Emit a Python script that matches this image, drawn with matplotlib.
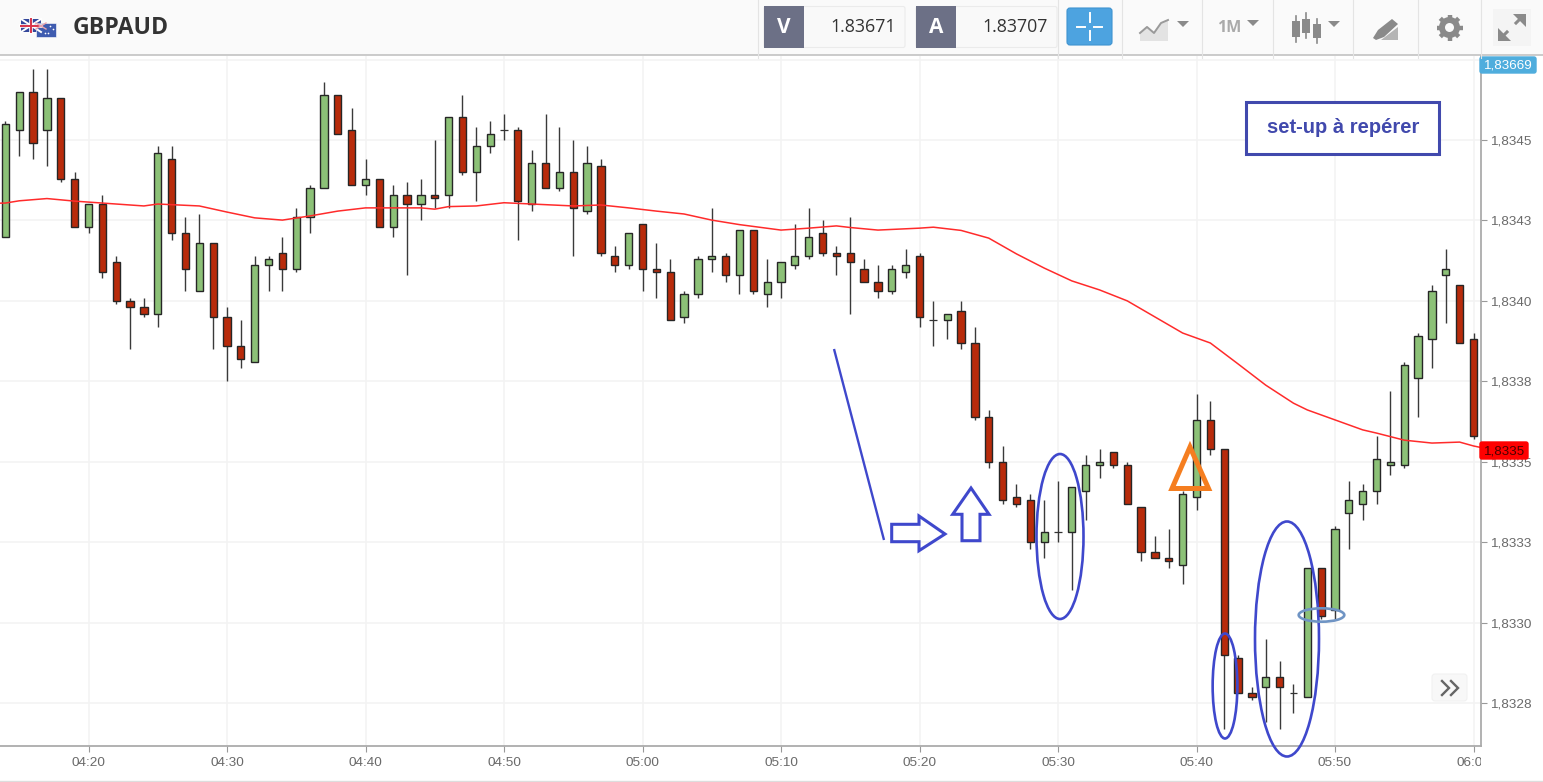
import numpy as np
import matplotlib
matplotlib.use("Agg")
import matplotlib.pyplot as plt
from matplotlib.patches import Rectangle, Ellipse, Polygon, FancyBboxPatch, Circle
from matplotlib.transforms import Bbox

W, H = 1543, 782

start_time = "04:14"
opens = [1.83420,1.83453,1.83465,1.83453,1.83463,1.83438,1.83423,1.83430,1.83412,1.83400,1.83398,1.83396,1.83444,1.83421,1.83403,1.83418,
 1.83395,1.83386,1.83381,1.83411,1.83415,1.83410,1.83426,1.83435,1.83464,1.83453,1.83436,1.83438,1.83423,1.83433,1.83430,1.83433,
 1.83433,1.83457,1.83440,1.83448,1.83453,1.83453,1.83430,1.83443,1.83435,1.83440,1.83428,1.83442,1.83414,1.83411,1.83424,1.83410,
 1.83409,1.83395,1.83402,1.83413,1.83414,1.83408,1.83422,1.83402,1.83406,1.83411,1.83414,1.83421,1.83415,1.83415,1.83410,1.83406,
 1.83403,1.83409,1.83414,1.83394,1.83394,1.83397,1.83387,1.83364,1.83350,1.83339,1.83338,1.83325,1.83328,1.83328,1.83341,1.83349,
 1.83353,1.83349,1.83336,1.83322,1.83320,1.83318,1.83339,1.83363,1.83354,1.83289,1.83278,1.83280,1.83283,1.83278,1.83277,1.83317,
 1.83304,1.83334,1.83337,1.83341,1.83349,1.83349,1.83376,1.83388,1.83408,1.83405,1.83388]
highs = [1.83456,1.83465,1.83472,1.83472,1.83463,1.83440,1.83430,1.83433,1.83414,1.83401,1.83401,1.83448,1.83448,1.83426,1.83427,1.83418,
 1.83398,1.83394,1.83414,1.83414,1.83420,1.83429,1.83436,1.83468,1.83464,1.83460,1.83444,1.83438,1.83436,1.83437,1.83438,1.83450,
 1.83457,1.83464,1.83454,1.83456,1.83458,1.83454,1.83447,1.83458,1.83454,1.83450,1.83448,1.83444,1.83417,1.83421,1.83424,1.83418,
 1.83413,1.83403,1.83414,1.83429,1.83415,1.83422,1.83422,1.83413,1.83412,1.83424,1.83429,1.83425,1.83417,1.83426,1.83413,1.83411,
 1.83411,1.83416,1.83415,1.83400,1.83396,1.83400,1.83392,1.83366,1.83355,1.83343,1.83340,1.83338,1.83344,1.83342,1.83352,1.83354,
 1.83353,1.83350,1.83336,1.83327,1.83329,1.83341,1.83371,1.83369,1.83354,1.83290,1.83280,1.83295,1.83288,1.83281,1.83317,1.83317,
 1.83330,1.83344,1.83343,1.83358,1.83372,1.83381,1.83390,1.83405,1.83416,1.83405,1.83390]
lows = [1.83420,1.83445,1.83444,1.83442,1.83437,1.83423,1.83421,1.83407,1.83399,1.83385,1.83395,1.83392,1.83419,1.83403,1.83403,1.83385,
 1.83375,1.83379,1.83381,1.83403,1.83403,1.83409,1.83421,1.83435,1.83452,1.83436,1.83433,1.83423,1.83420,1.83408,1.83425,1.83429,
 1.83429,1.83439,1.83431,1.83446,1.83450,1.83419,1.83428,1.83435,1.83434,1.83414,1.83427,1.83414,1.83409,1.83410,1.83403,1.83401,
 1.83394,1.83393,1.83401,1.83409,1.83406,1.83402,1.83402,1.83398,1.83401,1.83410,1.83413,1.83414,1.83408,1.83396,1.83406,1.83401,
 1.83402,1.83407,1.83392,1.83386,1.83388,1.83385,1.83363,1.83348,1.83337,1.83336,1.83323,1.83320,1.83325,1.83310,1.83332,1.83345,
 1.83348,1.83337,1.83319,1.83320,1.83317,1.83312,1.83335,1.83352,1.83267,1.83278,1.83276,1.83269,1.83267,1.83272,1.83277,1.83301,
 1.83301,1.83323,1.83332,1.83337,1.83346,1.83348,1.83364,1.83379,1.83393,1.83387,1.83357]
closes = [1.83455,1.83465,1.83449,1.83463,1.83438,1.83423,1.83430,1.83409,1.83400,1.83398,1.83396,1.83446,1.83421,1.83410,1.83418,1.83395,
 1.83386,1.83382,1.83411,1.83413,1.83410,1.83426,1.83435,1.83464,1.83452,1.83436,1.83438,1.83423,1.83433,1.83430,1.83433,1.83432,
 1.83457,1.83440,1.83448,1.83452,1.83453,1.83431,1.83443,1.83435,1.83440,1.83429,1.83443,1.83415,1.83411,1.83421,1.83410,1.83409,
 1.83394,1.83402,1.83413,1.83414,1.83408,1.83422,1.83403,1.83406,1.83412,1.83414,1.83420,1.83415,1.83414,1.83412,1.83406,1.83403,
 1.83410,1.83411,1.83395,1.83394,1.83396,1.83387,1.83364,1.83350,1.83338,1.83337,1.83325,1.83328,1.83328,1.83342,1.83349,1.83350,
 1.83349,1.83337,1.83322,1.83320,1.83319,1.83340,1.83363,1.83354,1.83290,1.83278,1.83277,1.83283,1.83280,1.83278,1.83317,1.83302,
 1.83329,1.83338,1.83341,1.83351,1.83350,1.83380,1.83389,1.83403,1.83410,1.83387,1.83358]

ma_times = ["04:13","04:14","04:15","04:17","04:19","04:21","04:24","04:25","04:28","04:30","04:32","04:34","04:36","04:38","04:40","04:44",
 "04:45","04:46","04:48","04:50","04:52","04:55","04:57","04:59","05:01","05:03","05:05","05:07","05:10","05:12","05:14","05:15",
 "05:17","05:20","05:21","05:23","05:25","05:27","05:29","05:31","05:33","05:35","05:37","05:39","05:41","05:43","05:45","05:47",
 "05:48","05:50","05:52","05:53","05:55","05:57","05:59","06:00","06:01"]
ma_values = [1.834303,1.834304,1.834311,1.834318,1.834310,1.834304,1.834295,1.834301,1.834295,1.834276,1.834258,1.834251,1.834264,1.834279,1.834289,1.834289,
 1.834285,1.834293,1.834295,1.834305,1.834301,1.834295,1.834298,1.834289,1.834279,1.834270,1.834251,1.834237,1.834220,1.834226,1.834233,1.834228,
 1.834220,1.834226,1.834229,1.834219,1.834195,1.834146,1.834102,1.834062,1.834034,1.834000,1.833950,1.833900,1.833869,1.833804,1.833738,1.833682,
 1.833661,1.833630,1.833599,1.833589,1.833567,1.833558,1.833561,1.833549,1.833540]

x_tick_labels = ["04:20","04:30","04:40","04:50","05:00","05:10","05:20","05:30","05:40","05:50","06:00"]
y_tick_values = [1.83475,1.83450,1.83425,1.83400,1.83375,1.83350,1.83325,1.83300,1.83275]
y_tick_labels = ["","1,8345","1,8343","1,8340","1,8338","1,8335","1,8333","1,8330","1,8328"]

BID, ASK = "1.83671", "1.83707"
LAST_PRICE, LAST_CLOSE = "1,83669", "1,8335"

def to_min(s):
    h, m = s.split(":")
    return int(h) * 60 + int(m)

SANS = "Liberation Sans"
OPEN = "Open Sans"
GREEN, RED, EDGE = "#8CC177", "#B82B0B", "#262626"

fig = plt.figure(figsize=(W / 100, H / 100), dpi=100, facecolor="white")

# ---- chart axes
ax_left, ax_right, ax_top, ax_bottom = 0, 1481, 56, 746
ax = fig.add_axes([ax_left / W, 1 - ax_bottom / H, (ax_right - ax_left) / W, (ax_bottom - ax_top) / H])
px_per_min = 13.85
x0 = to_min("04:20") - 88.5 / px_per_min
ax.set_xlim(x0, x0 + 1481 / px_per_min)
py = 0.00025 / 80.43
ax.set_ylim(1.8345 - (746 - 140) * py, 1.8345 + (140 - 56) * py)

ax.set_xticks([to_min(t) for t in x_tick_labels])
ax.set_xticklabels(x_tick_labels)
ax.set_yticks(y_tick_values)
ax.set_yticklabels(y_tick_labels)
ax.yaxis.tick_right()
ax.tick_params(axis="both", length=4.3, width=0.8, color="#999999", labelcolor="#6A6A6A", labelsize=9.7)
ax.tick_params(axis="y", pad=2.4)
ax.tick_params(axis="x", pad=3.4)
for lab in ax.get_xticklabels() + ax.get_yticklabels():
    lab.set_fontfamily(SANS)
for lab in ax.get_xticklabels():
    lab.set_clip_on(True)
    lab.set_clip_box(Bbox([[0, 0], [1481, H]]))
ax.grid(True, color="#F3F3F3", lw=1.1)
ax.set_axisbelow(True)
for side in ("top", "left"):
    ax.spines[side].set_visible(False)
for side in ("right", "bottom"):
    ax.spines[side].set_color("#ABABAB")
    ax.spines[side].set_linewidth(1.3)

minutes = to_min(start_time) + np.arange(len(opens))
o, h, l, c = map(np.array, (opens, highs, lows, closes))
ax.vlines(minutes, l, h, color="#3A3A3A", lw=1.0, zorder=2)
body = np.abs(c - o) > 1e-7
colors = [GREEN if cc > oo else RED for oo, cc in zip(o, c)]
ax.bar(minutes[body], np.abs(c - o)[body], bottom=np.minimum(o, c)[body], width=0.52,
       color=[col for col, b in zip(colors, body) if b], edgecolor=EDGE, linewidth=1.0, zorder=3)
ax.hlines(o[~body], minutes[~body] - 0.28, minutes[~body] + 0.28, color="#333333", lw=0.9, zorder=3)
ax.plot([to_min(t) for t in ma_times], ma_values, color="#FF2B2B", lw=1.1, zorder=4)

# ---- pixel overlay for the platform chrome and the hand-drawn annotations
ov = fig.add_axes([0, 0, 1, 1], facecolor="none")
ov.set_xlim(0, W)
ov.set_ylim(H, 0)
ov.axis("off")

BLUE = "#3F48CC"
ov.plot([834, 884], [349, 540], color=BLUE, lw=1.7, solid_capstyle="butt")
ov.add_patch(Polygon([(891.7, 524.3), (919, 524.3), (919, 516), (945, 534), (919, 550.7), (919, 541.7), (891.7, 541.7)],
                     closed=True, fill=False, ec=BLUE, lw=2.2))
ov.add_patch(Polygon([(971, 488), (989, 514.3), (980, 514.3), (980, 540.7), (962, 540.7), (962, 514.3), (952.7, 514.3)],
                     closed=True, fill=False, ec=BLUE, lw=2.2))
for cx, cy, w, hh, col in [(1060, 536.5, 47, 165, BLUE), (1225, 686, 24.7, 105, BLUE),
                           (1287, 639, 64, 235, BLUE), (1321.5, 615, 45.6, 13.4, "#6F94C4")]:
    ov.add_patch(Ellipse((cx, cy), w, hh, fill=False, ec=col, lw=1.9))
ov.add_patch(Polygon([(1190, 447), (1172, 488.5), (1208.5, 488.5)], closed=True, fill=False, ec="#F57E20", lw=3.6))

ov.add_patch(Rectangle((1245.5, 101.5), 193, 52, fc="white", ec="#4149AD", lw=2.2))
ov.text(1343, 127.5, "set-up à repérer", family=SANS, weight="bold", fontsize=14.5, color="#4149AD", ha="center", va="center")

# last price tags
ov.add_patch(FancyBboxPatch((1480, 57), 56, 16, boxstyle="round,pad=0,rounding_size=2", fc="#4FADDD", ec="#4FADDD", lw=1))
ov.text(1508, 65.5, LAST_PRICE, family=SANS, fontsize=9.6, color="white", ha="center", va="center")
ov.add_patch(FancyBboxPatch((1480, 442), 48, 17, boxstyle="round,pad=0,rounding_size=2", fc="#FF0000", ec="#FF0000", lw=1))
ov.text(1505, 451, LAST_CLOSE, family=SANS, fontsize=9.6, color="#4A0000", ha="center", va="center")

# scroll button
ov.add_patch(FancyBboxPatch((1432, 674), 35, 27, boxstyle="round,pad=0,rounding_size=3", fc="#F8F8F8", ec="#F1F1F1", lw=0.8))
for dx in (0, 9):
    ov.plot(np.array([1442, 1449, 1442]) + dx, [681, 688, 695], color="#666666", lw=1.7, solid_joinstyle="miter")

# page bottom rule
ov.plot([0, W], [781, 781], color="#DDDDDD", lw=1)

# toolbar
ov.add_patch(Rectangle((0, 0), W, 55, fc="#FAFAFA", ec="none"))
ov.plot([0, W], [55.3, 55.3], color="#BDBDBD", lw=1.1)
for sx in (758, 1057.5, 1121.5, 1202, 1272.5, 1353, 1417.5, 1481):
    ov.plot([sx, sx], [0, 58], color="#E4E4E4", lw=0.8)

# flags
ov.add_patch(Rectangle((21, 19), 20, 13, fc="#33479B", ec="none"))
ov.plot([21, 41], [19, 32], color="white", lw=1.4)
ov.plot([21, 41], [32, 19], color="white", lw=1.4)
ov.plot([31, 31], [19, 32], color="white", lw=2.6)
ov.plot([21, 41], [25.5, 25.5], color="white", lw=2.6)
ov.plot([31, 31], [19, 32], color="#D8344A", lw=1.4)
ov.plot([21, 41], [25.5, 25.5], color="#D8344A", lw=1.4)
ov.add_patch(Rectangle((36, 23), 20, 13.5, fc="#3F5CB0", ec="white", lw=0.4))
ov.plot([36, 46], [23, 29], color="#E9A4AE", lw=1.0)
ov.plot([36, 46], [29, 23], color="#E9A4AE", lw=1.0)
ov.scatter([50, 53, 48, 45], [26, 29, 33, 33], s=1.5, color="white", lw=0)
ov.text(73, 28, "GBPAUD", family=OPEN, weight="bold", fontsize=16.6, color="#333333", ha="left", va="center")

# bid / ask boxes
for bx, letter, val in [(764, "V", BID), (916, "A", ASK)]:
    ov.add_patch(FancyBboxPatch((bx, 6.5), 141, 41, boxstyle="round,pad=0,rounding_size=2", fc="#F9F9F9", ec="#EBEBEB", lw=0.8))
    ov.add_patch(Rectangle((bx, 6), 40, 42, fc="#6C7086", ec="none"))
    ov.text(bx + 20, 27.5, letter, family=OPEN, weight="bold", fontsize=15, color="white", ha="center", va="center")
    ov.text(bx + 132, 27.5, val, family=OPEN, fontsize=12.8, color="#333333", ha="right", va="center")

# crosshair button
ov.add_patch(FancyBboxPatch((1067, 8), 45, 37, boxstyle="round,pad=0,rounding_size=3", fc="#4DA3E0", ec="#3E93D0", lw=0.8))
ov.plot([1077, 1085], [26.5, 26.5], color="white", lw=1.4)
ov.plot([1094, 1102], [26.5, 26.5], color="white", lw=1.4)
ov.plot([1089.5, 1089.5], [13, 22], color="white", lw=1.4)
ov.plot([1089.5, 1089.5], [31, 40], color="white", lw=1.4)

ICON = "#8A8A8A"
def tri(cx, cy):
    ov.add_patch(Polygon([(cx - 6, cy - 3), (cx + 6, cy - 3), (cx, cy + 3)], closed=True, fc=ICON, ec="none"))

# chart-type icon
ov.add_patch(Polygon([(1140, 41), (1140, 32), (1147, 26), (1154, 32), (1162, 22), (1168, 20), (1168, 41)], closed=True, fc="#E3E3E3", ec="none"))
ov.plot([1140, 1147, 1154, 1161, 1168], [33, 27, 33, 23, 20], color="#9A9A9A", lw=1.4)
tri(1183, 24)
ov.text(1229, 28, "1M", family=OPEN, weight="bold", fontsize=11.5, color="#AAAAAA", ha="center", va="center")
tri(1253, 23)
# candle icon
for cx, t, b, t2, b2 in [(1296, 21, 37, 16, 42), (1306, 19, 33, 13, 38), (1317, 24, 38, 19, 43)]:
    ov.plot([cx, cx], [t2, b2], color=ICON, lw=1.2)
    ov.add_patch(Rectangle((cx - 4, t), 8, b - t, fc=ICON, ec="none"))
tri(1334, 24)
# pencil icon
ov.add_patch(Polygon([(1373, 38), (1378, 30), (1392, 19), (1398, 24), (1384, 37), (1376, 40)], closed=True, fc=ICON, ec="none"))
ov.add_patch(Polygon([(1381, 40), (1398, 27), (1398, 40)], closed=True, fc="#B5B5B5", ec="none"))
# gear icon
gx, gy = 1449.5, 27.5
for a in np.arange(8) * np.pi / 4:
    ov.plot([gx, gx + 13 * np.cos(a)], [gy, gy + 13 * np.sin(a)], color=ICON, lw=3.2, solid_capstyle="butt")
ov.add_patch(Circle((gx, gy), 10.5, fc=ICON, ec="none"))
ov.add_patch(Circle((gx, gy), 4.5, fc="#FAFAFA", ec="none", zorder=5))
# expand icon
ov.add_patch(Rectangle((1493, 9), 38, 37, fc="#F4F4F4", ec="none"))
ov.plot([1516, 1522], [23, 17], color=ICON, lw=2.2)
ov.plot([1501, 1507], [38, 32], color=ICON, lw=2.2)
ov.add_patch(Polygon([(1513, 14), (1526, 14), (1526, 27)], closed=True, fc=ICON, ec="none"))
ov.add_patch(Polygon([(1498, 28), (1498, 41), (1511, 41)], closed=True, fc=ICON, ec="none"))

fig.savefig("out.png", dpi=100)
